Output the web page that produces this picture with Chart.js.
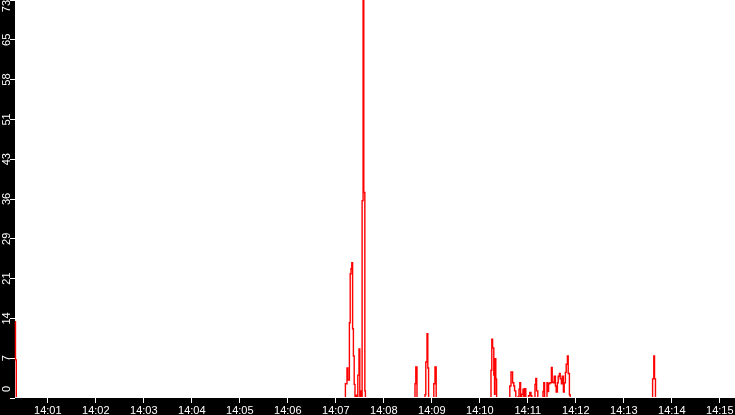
<!DOCTYPE html>
<html>
<head>
<meta charset="utf-8">
<script src="https://cdn.jsdelivr.net/npm/chart.js@4/dist/chart.umd.min.js"></script>
<style>
  html, body { margin: 0; padding: 0; background: #000; }
  canvas { display: block; background: #000; }
</style>
</head>
<body>
<canvas id="trafficChart" width="735" height="415"></canvas>
<script>
// seconds after 14:00:00, each value holds until the next time
const sampleSeconds = [
  19, 19.6, 20.6,
  432, 434, 435, 437, 438, 439, 440, 441, 442, 443, 444, 445, 446, 447.5, 449, 450, 451, 452, 452.9, 454.1, 455, 456.3, 457,
  519, 520, 521.5, 531.5, 532.5, 534, 535, 536, 542.5, 544, 545.5,
  614, 615, 616, 617.5, 618.4, 619, 620, 621,
  637.5, 639, 641, 642.5, 643.5, 645, 647.5, 649, 650, 651, 652.5, 654, 655, 656, 657.5,
  661, 662.5, 664, 665, 669, 670, 671, 672.5, 679, 680, 681,
  684, 685, 686, 687.5, 689.5, 690.5, 692, 693, 694.5, 695.5, 697, 698, 699.5, 700.5, 702, 703,
  704.5, 705.5, 707, 708, 709.5, 710.5, 712, 713,
  816, 817.5, 818.4, 819.6, 919
];
const sampleValues = [
  14, 7, 0,
  2.6, 5.5, 3.3, 13.8, 22.8, 23.7, 24.8, 12.7, 7.7, 2.5, 0, 0.5, 0, 4.2, 9, 0, 1.3, 0, 36.2, 73, 37.7, 1.3, 0,
  2.6, 5.7, 0, 0.6, 6.6, 11.8, 5.5, 0, 2.6, 5.7, 0,
  5.1, 10.8, 9.2, 4.2, 0.7, 7.2, 3.5, 0,
  2.2, 4.8, 2.8, 2.2, 1.3, 0, 0.2, 1.6, 2.8, 0, 0.7, 1.6, 0, 1.7, 0,
  0.4, 1.0, 0.4, 0, 2.5, 3.6, 1.3, 0, 1.2, 2.8, 0,
  2.8, 1.2, 2.6, 2.8, 5.6, 2.9, 2.8, 4, 2.2, 1.1, 2.8, 4, 4.5, 3.5, 2.6, 4,
  1.1, 2.8, 4.7, 6.2, 7.7, 4.5, 0.6, 0,
  3.5, 7.7, 3.5, 0, 0
];

const xTickSeconds = [60, 120, 180, 240, 300, 360, 420, 480, 540, 600, 660, 720, 780, 840, 900];
const xTickLabels = ["14:01", "14:02", "14:03", "14:04", "14:05", "14:06", "14:07", "14:08",
                     "14:09", "14:10", "14:11", "14:12", "14:13", "14:14", "14:15"];
const yTickValues = [0, 7.3, 14.6, 21.9, 29.2, 36.5, 43.8, 51.1, 58.4, 65.7, 73];
const yTickLabels = ["0", "7", "14", "21", "29", "36", "43", "51", "58", "65", "73"];

const points = sampleSeconds.map((t, i) => ({ x: t, y: sampleValues[i] }));

// white plot area on a black page
const plotBackground = {
  id: "plotBackground",
  beforeDraw(chart) {
    const a = chart.chartArea;
    const ctx = chart.ctx;
    ctx.save();
    ctx.fillStyle = "#ffffff";
    ctx.fillRect(a.left, a.top, a.right - a.left, a.bottom - a.top);
    ctx.restore();
  }
};

const tickFont = { family: "'Liberation Sans', Arial, sans-serif", size: 11 };

new Chart(document.getElementById("trafficChart"), {
  type: "line",
  data: {
    datasets: [{
      data: points,
      stepped: true,
      borderColor: "#ff0000",
      borderWidth: 1.4,
      pointRadius: 0,
      fill: false,
      clip: { left: 1, top: 0, right: 0, bottom: -1 }
    }]
  },
  options: {
    responsive: false,
    animation: false,
    layout: { padding: 0 },
    plugins: {
      legend: { display: false },
      tooltip: { enabled: false }
    },
    scales: {
      x: {
        type: "linear",
        min: 19,
        max: 919,
        afterBuildTicks: (scale) => {
          scale.ticks = xTickSeconds.map((v) => ({ value: v }));
        },
        afterFit: (scale) => { scale.height = 17; },
        grid: { drawOnChartArea: false, drawTicks: true, tickLength: 5, color: "#ffffff" },
        border: { display: false },
        ticks: {
          color: "#ffffff",
          font: tickFont,
          padding: 1,
          maxRotation: 0,
          autoSkip: false,
          callback: (value) => xTickLabels[xTickSeconds.indexOf(value)]
        }
      },
      y: {
        min: 0,
        max: 73,
        afterBuildTicks: (scale) => {
          scale.ticks = yTickValues.map((v) => ({ value: v }));
        },
        afterFit: (scale) => { scale.width = 15; },
        grid: { drawOnChartArea: false, drawTicks: true, tickLength: 5, color: "#ffffff" },
        border: { display: false },
        ticks: {
          color: "#ffffff",
          font: tickFont,
          minRotation: 90,
          maxRotation: 90,
          crossAlign: "center",
          padding: -8.7,
          autoSkip: false,
          // pad the end labels so they stay inside the strip
          callback: (value, index) => {
            const label = yTickLabels[index];
            if (index === 0) return "      " + label;
            if (index === yTickLabels.length - 1) return label + "    ";
            return label;
          }
        }
      }
    }
  },
  plugins: [plotBackground]
});
</script>
</body>
</html>
